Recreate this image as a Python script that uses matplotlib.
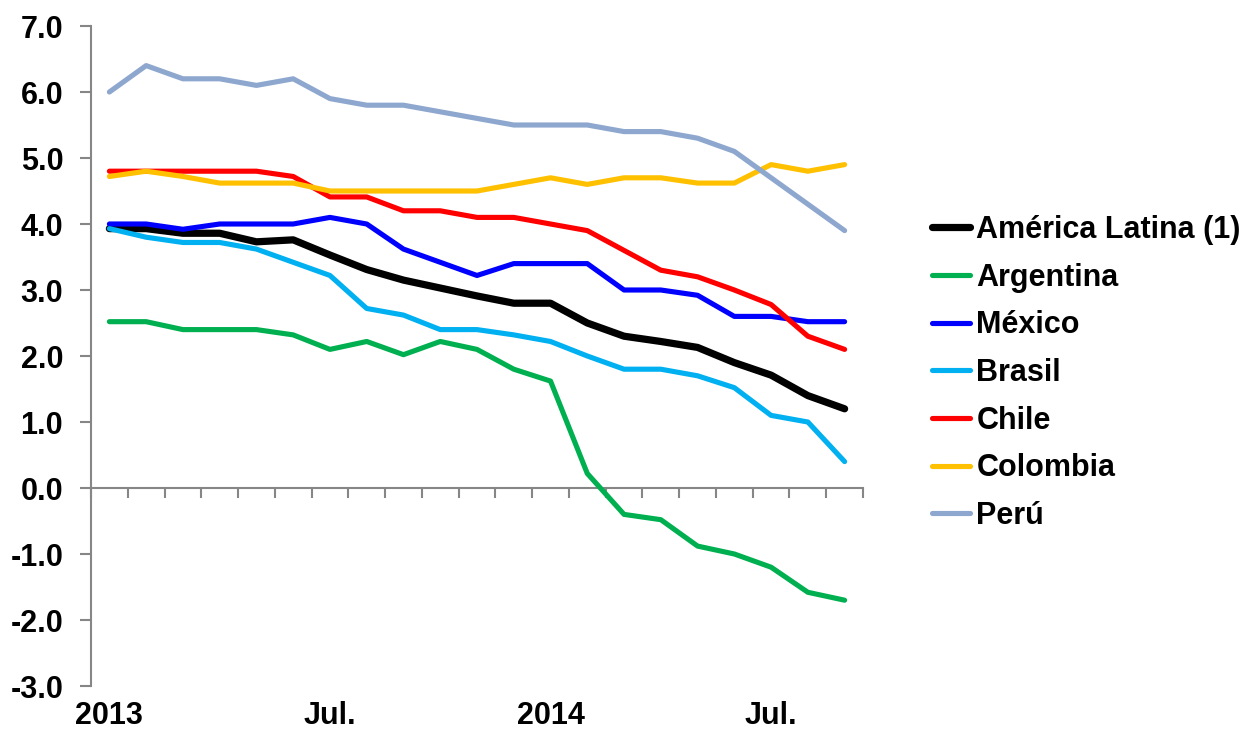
import matplotlib.pyplot as plt
import numpy as np

# Data: monthly, Jan 2013 - Sep 2014
n_months = 21
tick_pos = [0, 6, 12, 18]
tick_labels = ['2013', 'Jul.', '2014', 'Jul.']

america_latina = [3.93, 3.93, 3.86, 3.86, 3.73, 3.76, 3.53, 3.31, 3.15, 3.03, 2.91,
                  2.8, 2.8, 2.5, 2.3, 2.22, 2.13, 1.9, 1.71, 1.4, 1.2]
argentina = [2.52, 2.52, 2.4, 2.4, 2.4, 2.32, 2.1, 2.22, 2.02, 2.22, 2.1,
             1.8, 1.62, 0.22, -0.4, -0.48, -0.88, -1.0, -1.2, -1.58, -1.7]
mexico = [4.0, 4.0, 3.92, 4.0, 4.0, 4.0, 4.1, 4.0, 3.62, 3.42, 3.22,
          3.4, 3.4, 3.4, 3.0, 3.0, 2.92, 2.6, 2.6, 2.52, 2.52]
brasil = [3.93, 3.8, 3.72, 3.72, 3.62, 3.42, 3.22, 2.72, 2.62, 2.4, 2.4,
          2.32, 2.22, 2.0, 1.8, 1.8, 1.7, 1.52, 1.1, 1.0, 0.4]
chile = [4.8, 4.8, 4.8, 4.8, 4.8, 4.72, 4.41, 4.41, 4.2, 4.2, 4.1,
         4.1, 4.0, 3.9, 3.6, 3.3, 3.2, 3.0, 2.78, 2.3, 2.1]
colombia = [4.72, 4.8, 4.72, 4.62, 4.62, 4.62, 4.5, 4.5, 4.5, 4.5, 4.5,
            4.6, 4.7, 4.6, 4.7, 4.7, 4.62, 4.62, 4.9, 4.8, 4.9]
peru = [6.0, 6.4, 6.2, 6.2, 6.1, 6.2, 5.9, 5.8, 5.8, 5.7, 5.6,
        5.5, 5.5, 5.5, 5.4, 5.4, 5.3, 5.1, 4.7, 4.3, 3.9]

series = [
    ('América Latina (1)', america_latina, '#000000', 5.2),
    ('Argentina', argentina, '#00B050', 3.7),
    ('México', mexico, '#0000FF', 3.7),
    ('Brasil', brasil, '#00B0F0', 3.7),
    ('Chile', chile, '#FF0000', 3.7),
    ('Colombia', colombia, '#FFC000', 3.7),
    ('Perú', peru, '#8EA7CE', 3.7),
]

y_min, y_max = -3, 7
y_ticks = np.arange(y_min, y_max + 1, 1)
y_labels = ['%.1f' % v for v in y_ticks]

gray = '#868686'
plt.rcParams['font.family'] = ['Liberation Sans', 'DejaVu Sans']
plt.rcParams['font.weight'] = 'bold'

fig = plt.figure(figsize=(12.46, 7.31), dpi=100)
ax = fig.add_axes([91 / 1246, 1 - 686 / 731, (863 - 91) / 1246, (686 - 26) / 731])

x = np.arange(n_months)
for name, vals, color, lw in series:
    ax.plot(x, vals, color=color, lw=lw, label=name,
            solid_capstyle='round', solid_joinstyle='round')

ax.set_xlim(-0.5, n_months - 0.5)
ax.set_ylim(y_min, y_max)

# y axis
ax.set_yticks(y_ticks)
ax.set_yticklabels(y_labels, fontsize=22, fontweight='bold')
ax.tick_params(axis='y', direction='out', length=8, width=1.5, color=gray, pad=12)
ax.spines['left'].set_color(gray)
ax.spines['left'].set_linewidth(1.5)
for s in ['top', 'right', 'bottom']:
    ax.spines[s].set_visible(False)

# x labels at the bottom of the plot
ax.set_xticks(tick_pos)
ax.set_xticklabels(tick_labels, fontsize=22, fontweight='bold')
ax.tick_params(axis='x', length=0, pad=11)

# category axis line at zero with boundary ticks
sec = ax.secondary_xaxis((0 - y_min) / (y_max - y_min))
sec.set_xticks(np.arange(-0.5, n_months, 1))
sec.tick_params(direction='out', length=7, width=1.5, color=gray, labelbottom=False)
sec.spines['bottom'].set_color(gray)
sec.spines['bottom'].set_linewidth(1.5)

leg = fig.legend(loc='center left', bbox_to_anchor=(932 / 1246, 1 - 373 / 731),
                 frameon=False, fontsize=22, handlelength=1.25, handletextpad=0.2,
                 labelspacing=0.58, borderpad=0, borderaxespad=0)
for t in leg.get_texts():
    t.set_fontweight('bold')

fig.savefig('out.png', dpi=100)
